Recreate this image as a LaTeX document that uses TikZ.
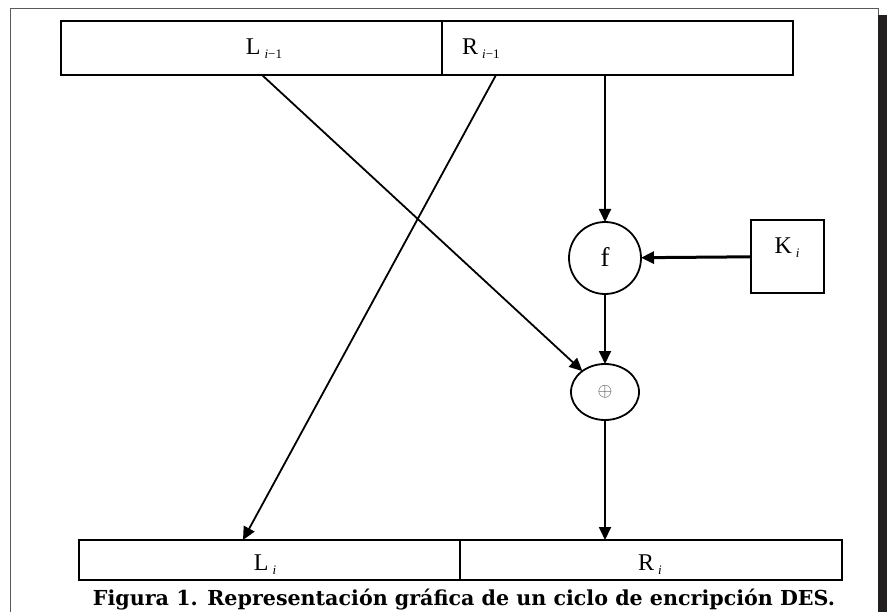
\documentclass[tikz,border=0pt]{standalone}
\usepackage{fontspec}
\setmainfont{Liberation Serif}
\newfontfamily\capfont{DejaVu Serif}
\usetikzlibrary{arrows.meta,shapes.geometric}
\definecolor{barcol}{HTML}{231F20}
\newcommand{\subidx}[2]{#1\,\raisebox{-4pt}{\fontsize{13}{13}\selectfont #2}}

\begin{document}
\begin{tikzpicture}[
    x=1pt,
    y=-1pt,
    >={Triangle[length=13pt,width=12pt]},
    flow/.style={->, line width=1.8pt},
    keyflow/.style={->, line width=3pt},
    cell/.style={draw, line width=2pt, inner sep=0pt, outer sep=0pt, minimum height=54pt},
    op/.style={draw, line width=1.8pt, inner sep=0pt, outer sep=0pt},
    lbl/.style={font=\fontsize{24}{24}\selectfont, inner sep=0pt}
  ]
  \useasboundingbox (0,0) rectangle (890,612);
  % page frame
  \draw[gray!70!black, line width=1pt] (10,612) |- (878,9) -- (878,15);
  \fill[barcol] (878,15) rectangle (887,612);

  \node[cell, minimum width=381pt] (Lprev) at (251.5,48) {};
  \node[cell, minimum width=351pt] (Rprev) at (617.5,48) {};
  \node[lbl, anchor=base] (Lprevtxt) at (264,55) {\subidx{L}{\textit{i}−1}};
  \node[lbl, anchor=base west] (Rprevtxt) at (462,55) {\subidx{R}{\textit{i}−1}};

  \node[op, circle, minimum size=72pt, font=\fontsize{27}{27}\selectfont, text depth=3pt] (f) at (605,258) {f};
  \node[op, minimum size=73pt] (key) at (787.5,256.5) {};
  \node[lbl, anchor=base] (keytxt) at (787,253) {\subidx{K}{\textit{i}}};
  \node[op, ellipse, minimum width=68pt, minimum height=56pt] (xor) at (605,392)
    {\color{black!75}\scalebox{1.9}{$\oplus$}};

  \node[cell, minimum width=381pt, minimum height=40pt] (Lnext) at (269.5,560) {};
  \node[cell, minimum width=382pt, minimum height=40pt] (Rnext) at (651,560) {};
  \node[lbl, anchor=base] (Lnexttxt) at (265,570) {\subidx{L}{\textit{i}}};
  \node[lbl, anchor=base] (Rnexttxt) at (650,570) {\subidx{R}{\textit{i}}};

  \coordinate (Lout) at (262,75);
  \coordinate (Rout) at (496,75);
  \coordinate (Lin) at (243,540);

  \draw[flow] (Lout) -- (xor);
  \draw[flow] (Rout) -- (Lin);
  \draw[flow] (f |- Rprev.south) -- (f);
  \draw[keyflow] (key) -- (f);
  \draw[flow] (f) -- (xor);
  \draw[flow] (xor) -- (xor |- Rnext.north);

  \node[anchor=base, inner sep=0pt] (caption) at (464,605)
    {\resizebox{742pt}{!}{\capfont\bfseries Figura 1. Representación gráfica de un ciclo de encripción DES.}};
\end{tikzpicture}
\end{document}
